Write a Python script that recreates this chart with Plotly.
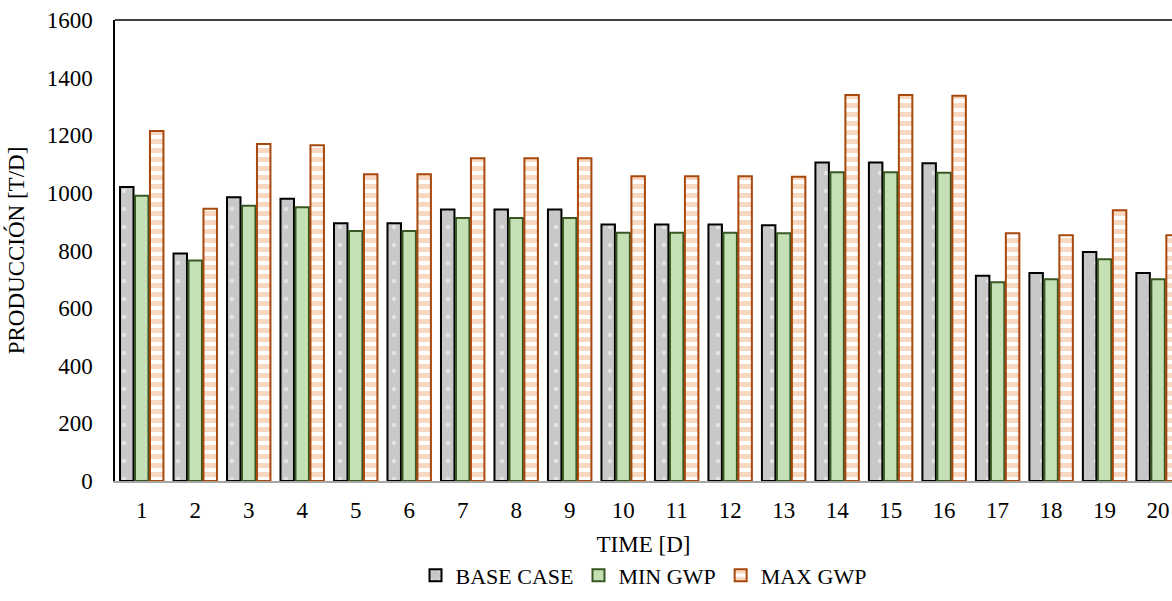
import plotly.graph_objects as go

# production per day
days = [str(d) for d in range(1, 21)]
base_case = [1020, 790, 985, 980, 895, 895, 942, 942, 942, 890,
             890, 890, 888, 1105, 1105, 1103, 712, 722, 795, 722]
min_gwp = [990, 765, 955, 950, 868, 868, 913, 913, 913, 862,
           862, 862, 860, 1072, 1072, 1070, 690, 700, 770, 700]
max_gwp = [1215, 945, 1170, 1165, 1065, 1065, 1120, 1120, 1120, 1058,
           1058, 1058, 1056, 1340, 1340, 1337, 860, 853, 940, 853]

FONT = "Liberation Serif, Times New Roman, serif"
FS = 23

fig = go.Figure()
fig.add_trace(go.Bar(
    x=days, y=base_case, name="BASE CASE",
    marker=dict(color="#c8c8c8", line=dict(color="#000000", width=2),
                pattern=dict(shape=".", fgcolor="#ffffff", bgcolor="#c8c8c8",
                             size=18, solidity=0.05)),
))
fig.add_trace(go.Bar(
    x=days, y=min_gwp, name="MIN GWP",
    marker=dict(color="#c5e0b4", line=dict(color="#385723", width=2)),
))
fig.add_trace(go.Bar(
    x=days, y=max_gwp, name="MAX GWP",
    marker=dict(color="#f4b183", line=dict(color="#a8480c", width=2),
                pattern=dict(shape="-", fgcolor="#f4b183", bgcolor="#ffffff",
                             size=9, solidity=0.55)),
))

fig.update_layout(
    width=1172, height=601,
    margin=dict(l=115, r=0, t=20, b=120),
    paper_bgcolor="white", plot_bgcolor="white",
    font=dict(family=FONT, size=FS, color="#000000"),
    barmode="group", bargap=0.16, bargroupgap=0.1,
    showlegend=True,
    legend=dict(orientation="h", x=0.5, xanchor="center", y=-0.205, yanchor="middle",
                font=dict(family=FONT, size=22), itemwidth=30,
                traceorder="normal", tracegroupgap=0),
    xaxis=dict(
        range=[-0.5, 19.26], showline=True, linecolor="#a6a6a6", linewidth=1.5,
        ticks="", showgrid=False, tickfont=dict(size=FS), ticklabelstandoff=8,
        title=dict(text="TIME [D]", font=dict(size=FS), standoff=14),
    ),
    yaxis=dict(
        range=[0, 1600], dtick=200, showline=True, linecolor="#000000", linewidth=1.5,
        ticks="", showgrid=False, zeroline=False, tickfont=dict(size=FS),
        ticklabelstandoff=16,
        title=dict(text="PRODUCCIÓN [T/D]", font=dict(size=FS), standoff=16),
    ),
    shapes=[dict(type="line", xref="paper", yref="paper", x0=0, x1=1, y0=1, y1=1,
                 line=dict(color="#000000", width=1.5))],
)

# drop the default page margin so the figure sits flush in the window
fig.write_html("out.html", config={"displayModeBar": False},
               post_script="document.body.style.margin='0';")
